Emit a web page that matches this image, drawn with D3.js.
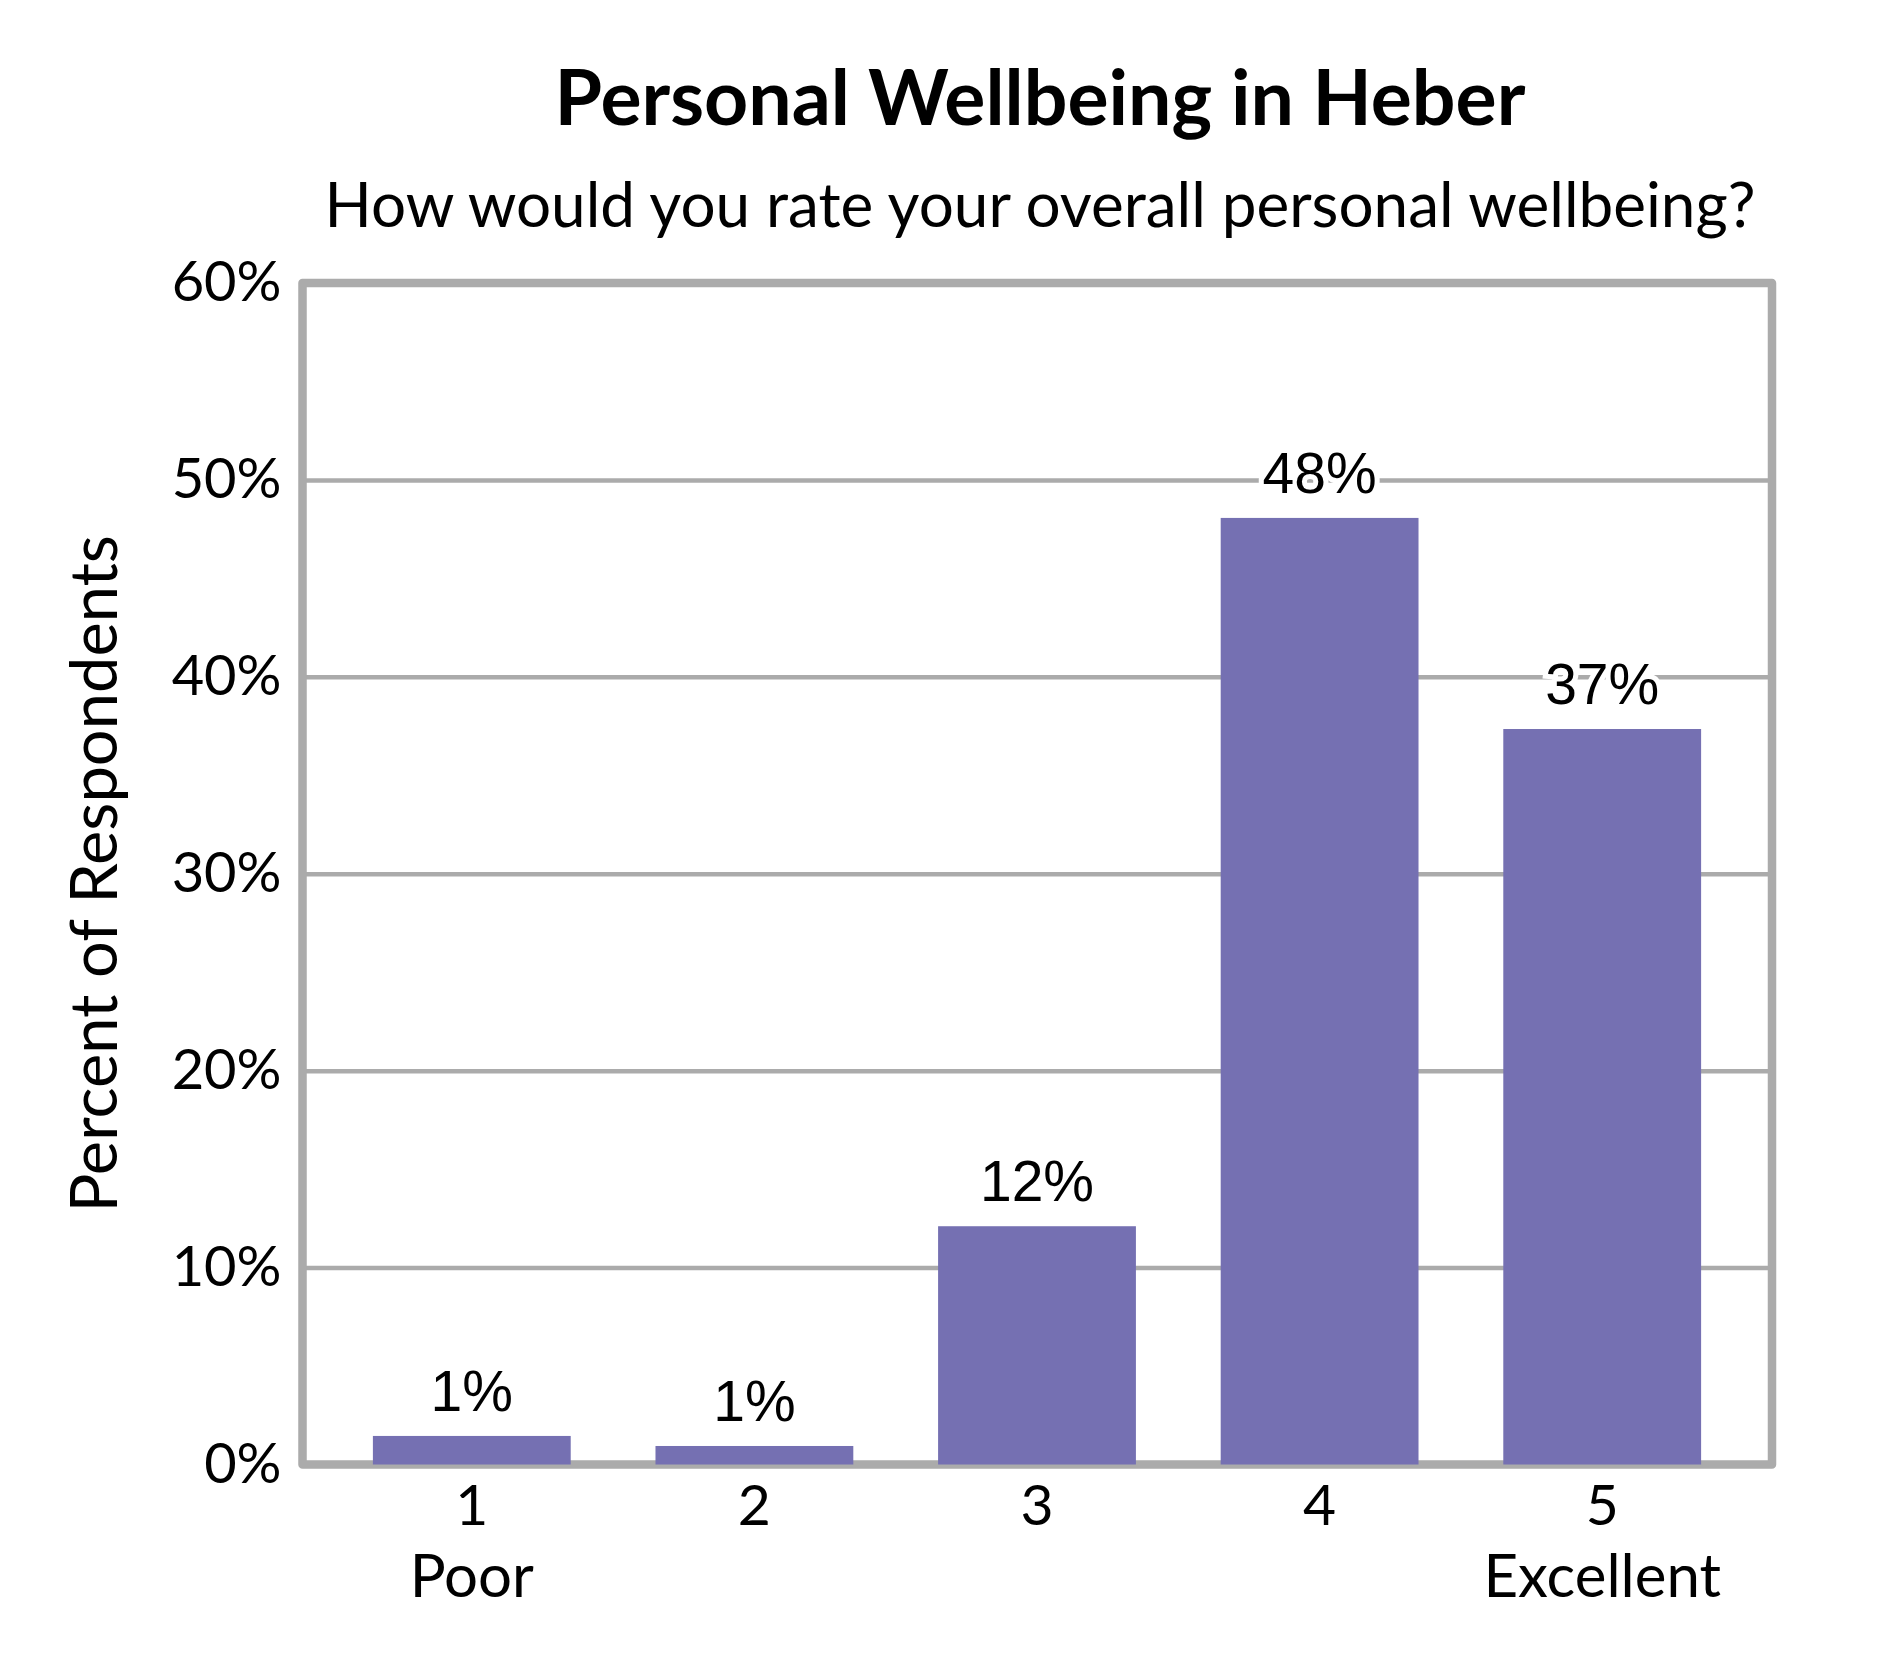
<!DOCTYPE html>
<html>
<head>
<meta charset="utf-8">
<script src="https://cdn.jsdelivr.net/npm/d3@7"></script>
<style>
  body { margin: 0; background: #fff; }
  svg { display: block; }
</style>
</head>
<body>
<svg id="chart" width="1890" height="1680"></svg>
<script>
// chart data
const categories = ['1', '2', '3', '4', '5'];
const subLabels = ['Poor', '', '', '', 'Excellent'];
const values = [1.45, 0.94, 12.1, 48.07, 37.35];
const valueLabels = ['1%', '1%', '12%', '48%', '37%'];
const yTicks = [0, 10, 20, 30, 40, 50, 60];

const title = 'Personal Wellbeing in Heber';
const subtitle = 'How would you rate your overall personal wellbeing?';
const yTitle = 'Percent of Respondents';

const PLOT = { left: 302.5, right: 1772, top: 283, bottom: 1464.5 };
const BAR_COLOR = '#7570B2';
const GRID_COLOR = '#ABABAB';
const CAL = 'Lato, "Noto Sans", sans-serif';
const ARIAL = '"Liberation Sans", Arial, sans-serif';

const svg = d3.select('#chart');

const x = d3.scaleBand()
  .domain(categories)
  .range([PLOT.left + 28, PLOT.right - 28.5])
  .paddingInner(0.3)
  .paddingOuter(0.15);

const y = d3.scaleLinear()
  .domain([0, 60])
  .range([PLOT.bottom, PLOT.top]);

// gridlines (no line at 0 and 60, those are the frame)
svg.append('g')
  .attr('transform', `translate(${PLOT.left},0)`)
  .call(d3.axisLeft(y).tickValues(yTicks.slice(1, -1)).tickSize(-(PLOT.right - PLOT.left)).tickFormat(''))
  .call((g) => g.select('.domain').remove())
  .selectAll('line')
  .attr('stroke', GRID_COLOR)
  .attr('stroke-width', 4.5);

// frame
svg.append('rect')
  .attr('x', PLOT.left)
  .attr('y', PLOT.top)
  .attr('width', PLOT.right - PLOT.left)
  .attr('height', PLOT.bottom - PLOT.top)
  .attr('fill', 'none')
  .attr('stroke', GRID_COLOR)
  .attr('stroke-width', 8.5)
  .attr('stroke-linejoin', 'round');

// y tick labels
const yAxis = svg.append('g')
  .attr('transform', `translate(${PLOT.left},0)`)
  .call(d3.axisLeft(y).tickValues(yTicks).tickSize(0).tickPadding(21).tickFormat((d) => d + '%'));
yAxis.select('.domain').remove();
yAxis.selectAll('text')
  .attr('font-family', CAL)
  .attr('font-size', 56)
  .attr('fill', '#000');

// bars
svg.append('g')
  .selectAll('rect')
  .data(values)
  .join('rect')
  .attr('x', (d, i) => x(categories[i]))
  .attr('y', (d) => y(d))
  .attr('width', x.bandwidth())
  .attr('height', (d) => y(0) - y(d))
  .attr('fill', BAR_COLOR);

// value labels with white halo that breaks the gridlines
svg.append('g')
  .selectAll('text')
  .data(values)
  .join('text')
  .attr('x', (d, i) => x(categories[i]) + x.bandwidth() / 2)
  .attr('y', (d) => y(d) - 25)
  .attr('text-anchor', 'middle')
  .attr('font-family', ARIAL)
  .attr('font-size', 57)
  .attr('fill', '#000')
  .attr('stroke', '#fff')
  .attr('stroke-width', 10)
  .attr('paint-order', 'stroke')
  .text((d, i) => valueLabels[i]);

// x axis labels
const xAxis = svg.append('g')
  .attr('transform', `translate(0,${PLOT.bottom})`)
  .call(d3.axisBottom(x).tickSize(0).tickPadding(0));
xAxis.select('.domain').remove();
xAxis.selectAll('text').remove();
xAxis.selectAll('.tick')
  .append('text')
  .attr('y', 60)
  .attr('text-anchor', 'middle')
  .attr('font-family', CAL)
  .attr('font-size', 57)
  .attr('fill', '#000')
  .text((d) => d);
xAxis.selectAll('.tick')
  .append('text')
  .attr('y', 132)
  .attr('text-anchor', 'middle')
  .attr('font-family', CAL)
  .attr('font-size', 60)
  .attr('fill', '#000')
  .text((d, i) => subLabels[i]);

// titles
svg.append('text')
  .attr('x', 1040)
  .attr('y', 125)
  .attr('text-anchor', 'middle')
  .attr('font-family', CAL)
  .attr('font-weight', 'bold')
  .attr('font-size', 77)
  .attr('fill', '#000')
  .text(title);

svg.append('text')
  .attr('x', 1040)
  .attr('y', 227)
  .attr('text-anchor', 'middle')
  .attr('font-family', CAL)
  .attr('font-size', 62)
  .attr('fill', '#000')
  .text(subtitle);

svg.append('text')
  .attr('transform', `translate(117,${(PLOT.top + PLOT.bottom) / 2}) rotate(-90)`)
  .attr('text-anchor', 'middle')
  .attr('font-family', CAL)
  .attr('font-size', 65)
  .attr('fill', '#000')
  .text(yTitle);
</script>
</body>
</html>
